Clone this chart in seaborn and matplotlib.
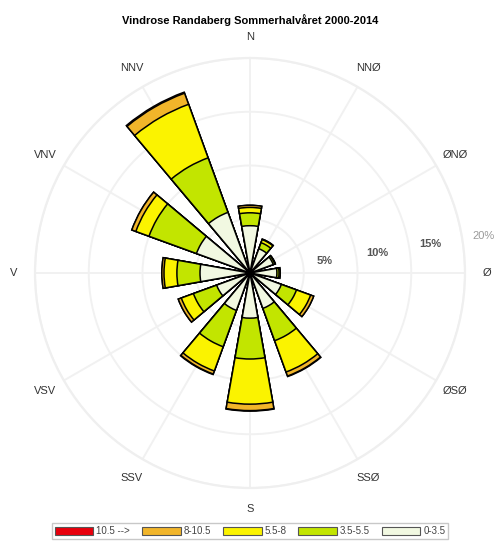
import numpy as np
import pandas as pd
import matplotlib
matplotlib.use("Agg")
import matplotlib.pyplot as plt
from matplotlib.patches import Patch
import seaborn as sns

# Direction sectors (12 sectors, 30 degrees apart, clockwise from north)
directions = ["N", "NNØ", "ØNØ", "Ø", "ØSØ", "SSØ", "S", "SSV", "VSV", "V", "VNV", "NNV"]
bearing_deg = [0, 30, 60, 90, 120, 150, 180, 210, 240, 270, 300, 330]

# Frequency (%) of each wind-speed class (m/s) per sector
speed_classes = ["0-3.5", "3.5-5.5", "5.5-8", "8-10.5", "10.5 -->"]
freq_0_35 = [4.4, 2.4, 2.3, 2.5, 3.1, 3.5, 4.2, 3.7, 3.3, 4.65, 5.3, 6.0]
freq_35_55 = [1.2, 0.6, 0.15, 0.2, 1.5, 3.2, 3.8, 3.6, 2.3, 2.15, 4.7, 5.4]
freq_55_8 = [0.5, 0.3, 0.05, 0.1, 1.4, 3.1, 4.2, 2.4, 1.2, 1.2, 1.3, 5.3]
freq_8_105 = [0.2, 0.05, 0.0, 0.0, 0.3, 0.4, 0.6, 0.3, 0.3, 0.2, 0.4, 1.1]
freq_105 = [0.0, 0.0, 0.0, 0.0, 0.0, 0.05, 0.05, 0.05, 0.0, 0.0, 0.0, 0.1]

class_colors = ["#f1f8e1", "#c2e500", "#fbf300", "#f1b52a", "#e8000c"]
ring_ticks = [5, 10, 15, 20]
ring_labels = ["5%", "10%", "15%", "20%"]

sns.set_theme(style="white")
plt.rcParams["font.family"] = ["Liberation Sans", "DejaVu Sans"]

df = pd.DataFrame({
    "theta": np.deg2rad(bearing_deg),
    speed_classes[0]: freq_0_35,
    speed_classes[1]: freq_35_55,
    speed_classes[2]: freq_55_8,
    speed_classes[3]: freq_8_105,
    speed_classes[4]: freq_105,
})
cum = df[speed_classes].cumsum(axis=1)

W, H = 500, 543
fig = plt.figure(figsize=(W / 100, H / 100), dpi=100)
cx, cy, R = 250, 273, 215
ax = fig.add_axes([(cx - R) / W, (H - cy - R) / H, 2 * R / W, 2 * R / H],
                  projection="polar")
ax.set_theta_zero_location("N")
ax.set_theta_direction(-1)

# Stacked rose: draw cumulative totals from the outermost class inward
for cls, col in reversed(list(zip(speed_classes, class_colors))):
    sns.barplot(x=df["theta"], y=cum[cls], native_scale=True, width=20 / 30,
                color=col, saturation=1, edgecolor="black", linewidth=1.1,
                errorbar=None, ax=ax)

ax.set_ylim(0, 20)
ax.set_xlabel("")
ax.set_ylabel("")
ax.set_xticks(np.deg2rad(bearing_deg))
ax.set_xticklabels([])
ax.set_yticks(ring_ticks)
ax.set_yticklabels([])
ax.tick_params(length=0)
ax.grid(True, color="#f1f1f1", linewidth=1.4)
ax.spines["polar"].set_color("#efefef")
ax.spines["polar"].set_linewidth(1.6)
ax.set_axisbelow(True)

# Sector names around the rose
for name, b in zip(directions, bearing_deg):
    ax.text(np.deg2rad(b), 22.0, name, ha="center", va="center",
            fontsize=8, color="#333333", clip_on=False)

# Ring labels
for v, lab in zip(ring_ticks, ring_labels):
    ax.text(np.deg2rad(81), v + 2.0, lab, ha="center", va="center",
            fontsize=8, color="#9a9a9a" if v == 20 else "#555555",
            fontweight="normal" if v == 20 else "bold", clip_on=False)

fig.text(0.5, 1 - 20 / H, "Vindrose Randaberg Sommerhalvåret 2000-2014",
         ha="center", va="center", fontsize=8, fontweight="bold", color="black")

handles = [Patch(facecolor=c, edgecolor="#555555", linewidth=0.8)
           for c in reversed(class_colors)]
labels = list(reversed(speed_classes))
fig.legend(handles, labels, loc="center", bbox_to_anchor=(0.5, 1 - 531 / H),
           ncol=5, fontsize=7, handlelength=4.0, handleheight=0.9,
           handletextpad=0.3, columnspacing=1.2, frameon=True, fancybox=False,
           edgecolor="#bbbbbb", borderpad=0.3, labelcolor="#444444")

fig.savefig("out.png", dpi=100, facecolor="white")
